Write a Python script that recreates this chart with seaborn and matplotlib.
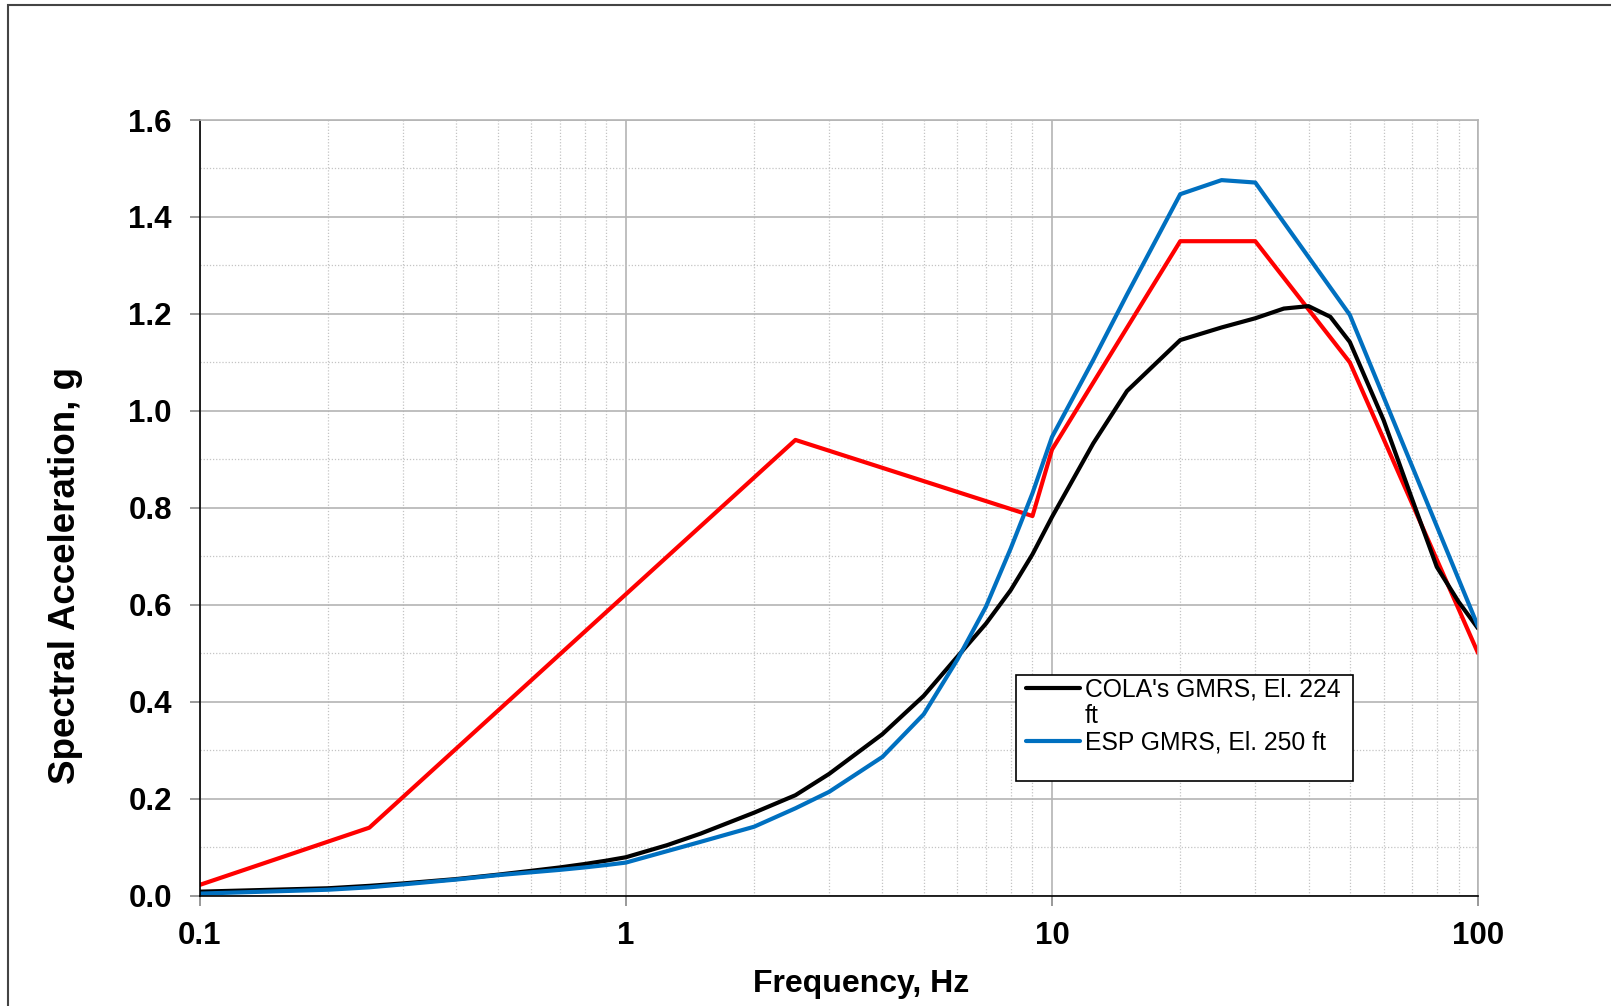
import numpy as np
import matplotlib
matplotlib.use("Agg")
import matplotlib.pyplot as plt
import seaborn as sns
from matplotlib.lines import Line2D
from matplotlib.patches import Rectangle
from matplotlib.ticker import LogLocator, MultipleLocator, FixedLocator, FixedFormatter, NullFormatter

# data
cola_freq = [0.1, 0.2, 0.25, 0.3, 0.4, 0.5, 0.6, 0.7, 0.8, 0.9, 1, 1.25, 1.5, 2, 2.5, 3,
             4, 5, 6, 7, 8, 9, 10, 12.5, 15, 20, 25, 30, 35, 40, 45, 50, 60, 70, 80, 90, 100]
cola_sa = [0.008, 0.015, 0.020, 0.025, 0.034, 0.043, 0.051, 0.058, 0.065, 0.072, 0.079, 0.104,
           0.128, 0.171, 0.207, 0.251, 0.333, 0.412, 0.493, 0.561, 0.630, 0.704, 0.781, 0.933,
           1.041, 1.146, 1.172, 1.191, 1.211, 1.216, 1.194, 1.142, 0.981, 0.818, 0.678, 0.606, 0.551]

esp_freq = [0.1, 0.2, 0.25, 0.3, 0.4, 0.5, 0.6, 0.7, 0.8, 0.9, 1, 1.5, 2, 2.5, 3, 4, 5, 6, 7,
            8, 9, 10, 12.5, 15, 20, 25, 30, 50, 100]
esp_sa = [0.004, 0.012, 0.017, 0.023, 0.033, 0.042, 0.048, 0.053, 0.058, 0.063, 0.068, 0.111,
          0.142, 0.180, 0.214, 0.286, 0.374, 0.487, 0.596, 0.716, 0.830, 0.946, 1.105, 1.24,
          1.447, 1.476, 1.471, 1.198, 0.555]

red_freq = [0.1, 0.25, 2.5, 9, 10, 20, 30, 50, 100]
red_sa = [0.022, 0.14, 0.94, 0.783, 0.92, 1.35, 1.35, 1.10, 0.50]

xticks = [0.1, 1, 10, 100]
xtick_labels = ["0.1", "1", "10", "100"]
# first label wraps onto a second line in the original legend
legend_labels = ["COLA's GMRS, El. 224", "ft", "ESP GMRS, El. 250 ft"]

sns.set_style("white")
plt.rcParams['font.family'] = ['Liberation Sans', 'DejaVu Sans']
plt.rcParams['text.color'] = 'black'
plt.rcParams['axes.labelcolor'] = 'black'
plt.rcParams['xtick.labelcolor'] = 'black'
plt.rcParams['ytick.labelcolor'] = 'black'

fig = plt.figure(figsize=(16.11, 10.06), dpi=100)
ax = fig.add_axes([0.124, 0.1098, 0.7935, 0.7709])

sns.lineplot(x=red_freq, y=red_sa, ax=ax, color="#ff0000", linewidth=3.0)
sns.lineplot(x=cola_freq, y=cola_sa, ax=ax, color="black", linewidth=3.0)
sns.lineplot(x=esp_freq, y=esp_sa, ax=ax, color="#0070c0", linewidth=3.0)

ax.set_xscale("log")
ax.set_xlim(0.1, 100)
ax.set_ylim(0, 1.6)

ax.xaxis.set_major_locator(FixedLocator(xticks))
ax.xaxis.set_major_formatter(FixedFormatter(xtick_labels))
ax.xaxis.set_minor_locator(LogLocator(base=10, subs=np.arange(2, 10)))
ax.xaxis.set_minor_formatter(NullFormatter())
ax.yaxis.set_major_locator(MultipleLocator(0.2))
ax.yaxis.set_minor_locator(MultipleLocator(0.1))
ax.yaxis.set_major_formatter(matplotlib.ticker.FormatStrFormatter("%.1f"))

ax.grid(which="major", color="#b4b4b4", linewidth=1.2, linestyle="-")
ax.grid(which="minor", color="#c4c4c4", linewidth=0.9, linestyle=(0, (1, 1.5)))
ax.set_axisbelow(True)

for s in ["top", "right"]:
    ax.spines[s].set_color("#b4b4b4")
    ax.spines[s].set_linewidth(1.2)
for s in ["left", "bottom"]:
    ax.spines[s].set_color("black")
    ax.spines[s].set_linewidth(1.2)

ax.tick_params(axis="both", which="major", direction="out", length=7, width=1.2,
               color="#888888", labelcolor="black", labelsize=22.5, bottom=True, left=True)
ax.tick_params(axis="y", which="major", pad=13)
ax.tick_params(axis="x", which="major", pad=11)
ax.tick_params(which="minor", length=0)
for lab in ax.get_xticklabels() + ax.get_yticklabels():
    lab.set_fontweight("bold")

ax.set_xlabel("Frequency, Hz", fontsize=23, fontweight="bold", labelpad=13, x=0.517)
ax.set_ylabel("Spectral Acceleration, g", fontsize=26.5, fontweight="bold", labelpad=33, y=0.413)

# legend box
ax.add_patch(Rectangle((0.6383, 0.1476), 0.2641, 0.1367, transform=ax.transAxes,
                       facecolor="white", edgecolor="black", linewidth=1.2, zorder=5))
handles = [Line2D([], [], color="black", linewidth=3.0),
           Line2D([], [], color="none"),
           Line2D([], [], color="#0070c0", linewidth=3.0)]
leg = ax.legend(handles, legend_labels, loc="upper left", bbox_to_anchor=(0.646, 0.281),
                frameon=False, fontsize=17.8, handlelength=2.2, handletextpad=0.2,
                labelspacing=0.1, borderpad=0, borderaxespad=0)
leg.set_zorder(6)
for t in leg.get_texts():
    t.set_color("black")

# outer frame
fig.patches.append(Rectangle((0.005, -0.1), 1.2, 1.095, transform=fig.transFigure,
                             fill=False, edgecolor="#444444", linewidth=1.5))

fig.savefig("out.png", dpi=100)
